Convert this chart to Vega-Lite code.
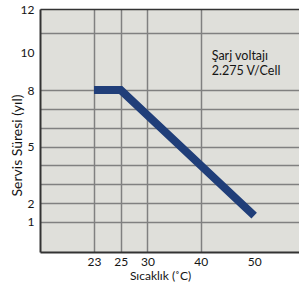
{
  "$schema": "https://vega.github.io/schema/vega-lite/v6.json",
  "width": 259,
  "height": 243,
  "autosize": {"type": "none"},
  "padding": {"left": 40, "top": 9, "right": 0, "bottom": 34},
  "background": "white",
  "config": {
    "view": {"fill": "#dfdfda", "stroke": null},
    "font": "Lato",
    "axis": {"labelFont": "Lato", "titleFont": "Lato", "labelFontSize": 12, "titleFontSize": 12, "titleFontWeight": "normal", "labelColor": "#151515", "titleColor": "#151515", "ticks": false, "labelFlush": false, "labelOverlap": false, "labelBound": false, "domainColor": "#333", "domainWidth": 2}
  },
  "data": {
    "values": [
      {"kind": "line", "temp": 23, "years": 8},
      {"kind": "line", "temp": 25, "years": 8},
      {"kind": "line", "temp": 50, "years": 1.33},
      {"kind": "note", "temp": 42.05, "years": 9.59, "text": "Şarj voltajı"},
      {"kind": "note", "temp": 42.05, "years": 8.8, "text": "2.275 V/Cell"}
    ]
  },
  "encoding": {
    "x": {
      "field": "temp", "type": "quantitative",
      "scale": {"type": "linear", "domain": [18.94, 23, 25, 58.4], "range": [0, 54, 80.7, 259], "nice": false, "zero": false},
      "axis": {
        "values": [23, 25, 30, 40, 50],
        "grid": true, "gridColor": "#808080", "gridWidth": 1.5,
        "gridOpacity": {"condition": {"test": "datum.value == 50", "value": 0}, "value": 1},
        "labelPadding": 4, "title": "Sıcaklık (˚C)",
        "titleX": 120, "titleY": 23.5, "titleBaseline": "middle", "titleAlign": "center"
      }
    },
    "y": {
      "field": "years", "type": "quantitative",
      "scale": {"domain": [-0.6, 12.3], "nice": false, "zero": false},
      "axis": {
        "values": [1, 2, 3, 4, 5, 6, 7, 8, 10, 11, 12.3],
        "labelExpr": "datum.value > 12 ? '12' : (indexof([1, 2, 5, 8, 10], datum.value) >= 0 ? datum.label : '')",
        "grid": true, "gridWidth": 1.5,
        "gridColor": {"condition": {"test": "datum.value > 12", "value": "#333"}, "value": "#808080"},
        "gridOpacity": {"condition": {"test": "datum.value == 10", "value": 0}, "value": 1},
        "labelPadding": 6, "title": "Servis Süresi (yıl)", "titleFontSize": 14,
        "titleX": -16, "titleY": 136, "titleBaseline": "bottom", "titleAngle": -90, "titleAlign": "center"
      }
    }
  },
  "layer": [
    {
      "transform": [{"filter": "datum.kind == 'line'"}],
      "mark": {"type": "line", "color": "#203e79", "strokeWidth": 8, "strokeCap": "butt", "strokeJoin": "miter"}
    },
    {
      "transform": [{"filter": "datum.kind == 'note'"}],
      "mark": {"type": "text", "align": "left", "baseline": "alphabetic", "font": "Lato", "fontSize": 12.5, "color": "#151515"},
      "encoding": {"text": {"field": "text"}}
    }
  ]
}
